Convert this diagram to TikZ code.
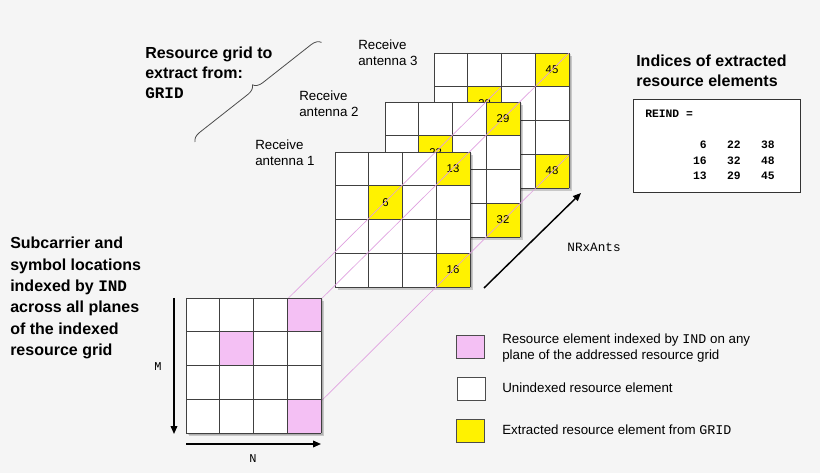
\documentclass[tikz,border=0pt]{standalone}
\usepackage{fontspec}
\setmainfont{Liberation Sans}
\setmonofont{Liberation Mono}
\usetikzlibrary{shadows,decorations.pathreplacing,arrows.meta}
\definecolor{bg}{HTML}{F5F5F5}
\definecolor{pinkc}{HTML}{F4C0F4}
\definecolor{linec}{HTML}{E0A0E0}
\tikzset{
  cell/.style={draw=black!75,line width=0.6pt},
  gridbox/.style={fill=white},
  lbl/.style={font=\fontsize{10}{11.5}\selectfont,align=left,anchor=north west,inner sep=0pt},
  ttl/.style={font=\bfseries\fontsize{12}{15}\selectfont,align=left,anchor=north west,inner sep=0pt},
  num/.style={font=\fontsize{8.5}{9}\selectfont,inner sep=0pt},
  diag/.style={linec,line width=0.5pt},
  arr/.style={-{Triangle[length=6pt,width=5pt]},line width=1.1pt}
}
% grid macro: #1 x0, #2 y0, #3 highlight colour, #4/#5/#6 labels
\newcommand{\rgrid}[6]{%
  \fill[black,opacity=0.18] (#1+3,#2+3) rectangle ++(135,135);
  \fill[black,opacity=0.12] (#1+1.5,#2+1.5) rectangle ++(135,135);
  \fill[gridbox] (#1,#2) rectangle ++(135,135);
  \fill[#3] (#1+101.25,#2) rectangle ++(33.75,33.75);
  \fill[#3] (#1+33.75,#2+33.75) rectangle ++(33.75,33.75);
  \fill[#3] (#1+101.25,#2+101.25) rectangle ++(33.75,33.75);
  \node[num] at (#1+118,#2+17) {#4};
  \node[num] at (#1+50.6,#2+50.6) {#5};
  \node[num] at (#1+118,#2+118) {#6};
  \foreach \k in {0,1,2,3,4}{
    \draw[cell] (#1+\k*33.75,#2) -- (#1+\k*33.75,#2+135);
    \draw[cell] (#1,#2+\k*33.75) -- (#1+135,#2+\k*33.75);
  }}
\begin{document}
\begin{tikzpicture}[x=0.75pt,y=-0.75pt]
\fill[bg] (0,0) rectangle (820,473);
\useasboundingbox (0,0) rectangle (820,473);
% antenna grids
\rgrid{434}{53}{yellow}{45}{38}{48}
\rgrid{385}{102}{yellow}{29}{22}{32}
\rgrid{335}{152}{yellow}{13}{6}{16}
% diagonal guide lines
\coordinate (d1) at (288,332); \coordinate (e1) at (569,53);
\coordinate (d2) at (220,366); \coordinate (e2) at (501,87);
\coordinate (d3) at (288,434); \coordinate (e3) at (569,155);
\draw[diag] (d1) -- (e1);
\draw[diag] (d2) -- (e2);
\draw[diag] (d3) -- (e3);
% indexed grid
\rgrid{186}{298}{pinkc}{}{}{}
% axes
\coordinate (ma) at (174,298); \coordinate (mb) at (174,434);
\draw[arr] (ma) -- (mb);
\node[font=\ttfamily\fontsize{9}{9}\selectfont] (M) at (158,367) {M};
\coordinate (na) at (186,444); \coordinate (nb) at (321,444);
\draw[arr] (na) -- (nb);
\node[font=\ttfamily\fontsize{9}{9}\selectfont] (N) at (253,459) {N};
\coordinate (ra) at (484,288); \coordinate (rb) at (581,193);
\draw[arr] (ra) -- (rb);
\node[font=\ttfamily\fontsize{9.5}{9}\selectfont] (nr) at (594,247) {NRxAnts};
% brace
\coordinate (b1) at (195,142); \coordinate (b2) at (322,42);
\draw[black!70,line width=0.6pt,decorate,decoration={brace,amplitude=7pt}] (b1) -- (b2);
% texts
\node[ttl] (t1) at (145,47) {Resource grid to\\extract from:\\\texttt{GRID}};
\node[lbl] (a3) at (358,40) {Receive\\antenna 3};
\node[lbl] (a2) at (299,91) {Receive\\antenna 2};
\node[lbl] (a1) at (255,140) {Receive\\antenna 1};
\node[ttl,font=\bfseries\fontsize{12}{16}\selectfont] (t2) at (10,237) {Subcarrier and\\symbol locations\\indexed by \texttt{IND}\\across all planes\\of the indexed\\resource grid};
\node[ttl] (t3) at (636,55) {Indices of extracted\\resource elements};
\node[draw=black!80,fill=white,line width=0.6pt,minimum width=125pt,minimum height=70pt,anchor=north west,inner sep=0pt] (box) at (633,99) {};
\node[font=\ttfamily\bfseries\fontsize{8.5}{9}\selectfont,anchor=west,inner sep=0pt] (ri) at (645,114) {REIND =};
\node[font=\ttfamily\bfseries\fontsize{8.5}{11.5}\selectfont,anchor=north east,inner sep=0pt,align=right] (rv) at (775,141) {6\ \ \ 22\ \ \ 38\\16\ \ \ 32\ \ \ 48\\13\ \ \ 29\ \ \ 45};
% legend
\node[draw=black!70,fill=pinkc,minimum width=21pt,minimum height=17pt,anchor=north west,inner sep=0pt] (l1) at (456,335) {};
\node[draw=black!70,fill=white,minimum width=21pt,minimum height=17pt,anchor=north west,inner sep=0pt] (l2) at (457,377) {};
\node[draw=black!70,fill=yellow,minimum width=21pt,minimum height=17pt,anchor=north west,inner sep=0pt] (l3) at (456,419) {};
\node[lbl,font=\fontsize{10}{12}\selectfont] (lt1) at (502,334) {Resource element indexed by \texttt{IND} on any\\plane of the addressed resource grid};
\node[lbl] (lt2) at (502,383) {Unindexed resource element};
\node[lbl] (lt3) at (502,425) {Extracted resource element from \texttt{GRID}};
\end{tikzpicture}
\end{document}
